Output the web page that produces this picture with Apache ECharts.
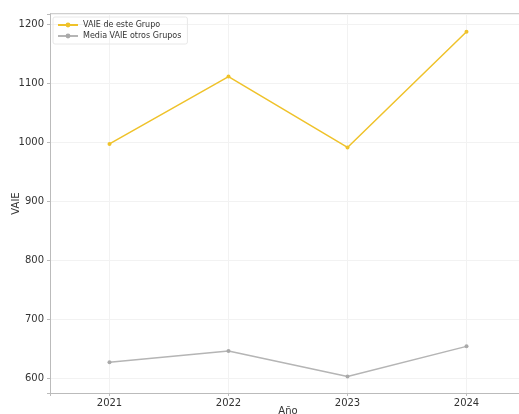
<!DOCTYPE html>
<html><head><meta charset="utf-8">
<script src="https://cdn.jsdelivr.net/npm/echarts@6/dist/echarts.min.js"></script>
<style>html,body{margin:0;padding:0;background:#fff}#c{width:519px;height:414px}</style>
</head><body><div id="c"></div>
<script>
const years = [2021, 2022, 2023, 2024];
const vaieGrupo = [997, 1111, 991, 1187];
const vaieOtros = [627, 646, 603, 654];
const seriesNames = ['VAIE de este Grupo', 'Media VAIE otros Grupos'];

const pairs = vals => years.map((y, i) => [y, vals[i]]);

const chart = echarts.init(document.getElementById('c'), null, {renderer: 'canvas'});
chart.setOption({
  animation: false,
  backgroundColor: '#fff',
  textStyle: {fontFamily: 'DejaVu Sans'},
  grid: {left: 50, top: 14, width: 476, height: 379, containLabel: false, outerBoundsMode: 'none'},
  legend: {
    orient: 'vertical', left: 53, top: 17,
    data: seriesNames,
    itemWidth: 20, itemHeight: 6, itemGap: 3,
    padding: [4, 6, 4, 4],
    borderColor: '#e8e8e8', borderWidth: 1, borderRadius: 2,
    textStyle: {fontSize: 8, color: '#333', fontFamily: 'DejaVu Sans'}
  },
  xAxis: {
    type: 'value', min: 2020.5, max: 2024.5, splitNumber: 4,
    name: 'Año', nameLocation: 'middle', nameGap: 13, nameMoveOverlap: false,
    nameTextStyle: {fontSize: 10, color: '#333'},
    axisLine: {lineStyle: {color: '#bbb', width: 1}},
    axisTick: {show: true, length: 3, lineStyle: {color: '#bbb'}},
    axisLabel: {fontSize: 10, color: '#333', margin: 5,
      formatter: v => (Number.isInteger(v) ? String(v) : '')},
    splitLine: {show: true, lineStyle: {color: '#f2f2f2', width: 1}}
  },
  yAxis: {
    type: 'value', min: 575, max: 1217, splitNumber: 6,
    name: 'VAIE', nameLocation: 'middle', nameGap: 29, nameMoveOverlap: false,
    nameTextStyle: {fontSize: 10, color: '#333'},
    axisLine: {show: true, lineStyle: {color: '#bbb', width: 1}},
    axisTick: {show: true, length: 3, lineStyle: {color: '#bbb'}},
    axisLabel: {fontSize: 10, color: '#333', margin: 6,
      formatter: v => (v % 100 === 0 ? String(v) : '')},
    splitLine: {show: true, lineStyle: {color: '#f2f2f2', width: 1}}
  },
  series: [
    {name: seriesNames[0], type: 'line', data: pairs(vaieGrupo),
     symbol: 'circle', symbolSize: 4,
     itemStyle: {color: '#EFC22A'}, lineStyle: {color: '#EFC22A', width: 1.5}},
    {name: seriesNames[1], type: 'line', data: pairs(vaieOtros),
     symbol: 'circle', symbolSize: 4,
     itemStyle: {color: '#a9a9a9'}, lineStyle: {color: '#b5b5b5', width: 1.5}}
  ],
  graphic: [{type: 'rect', shape: {x: 50, y: 13, width: 476, height: 2}, style: {fill: '#cfcfcf'}, silent: true}]
});
</script></body></html>
